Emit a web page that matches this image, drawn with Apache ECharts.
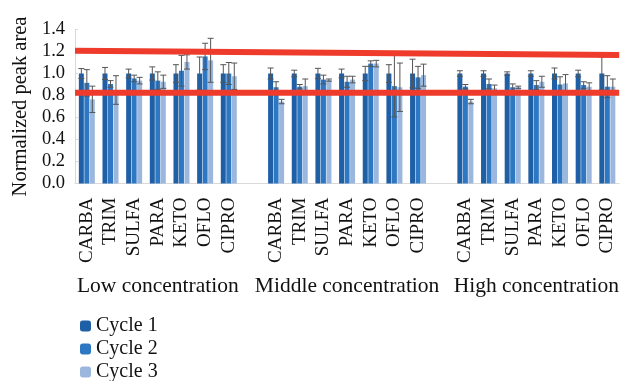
<!DOCTYPE html>
<html>
<head>
<meta charset="utf-8">
<script src="https://cdn.jsdelivr.net/npm/echarts@6/dist/echarts.min.js"></script>
<style>
  html, body { margin: 0; padding: 0; background: #fff; }
  #chart { width: 622px; height: 381px; }
</style>
</head>
<body>
<div id="chart"></div>
<script>
// data
const drugs = ['CARBA', 'TRIM', 'SULFA', 'PARA', 'KETO', 'OFLO', 'CIPRO'];
const groupNames = ['Low concentration', 'Middle concentration', 'High concentration'];
const seriesNames = ['Cycle 1', 'Cycle 2', 'Cycle 3'];

// low (7) / middle (7) / high (7)
const cycle1 = [1.00, 1.00, 1.00, 1.00, 1.00, 1.00, 1.00,
                1.00, 1.00, 1.00, 1.00, 1.00, 1.00, 1.00,
                1.00, 1.00, 1.00, 1.00, 1.00, 1.00, 1.00];
const cycle2 = [0.915, 0.905, 0.955, 0.935, 1.025, 1.155, 1.00,
                0.875, 0.88, 0.945, 0.925, 1.09, 0.885, 0.965,
                0.88, 0.905, 0.875, 0.895, 0.90, 0.895, 0.88];
const cycle3 = [0.765, 0.85, 0.935, 0.925, 1.105, 1.12, 0.975,
                0.745, 0.885, 0.94, 0.945, 1.09, 0.875, 0.985,
                0.745, 0.865, 0.875, 0.925, 0.91, 0.88, 0.88];
const err1 = [0.045, 0.055, 0.04, 0.06, 0.08, 0.15, 0.08,
              0.05, 0.03, 0.047, 0.04, 0.065, 0.08, 0.13,
              0.025, 0.025, 0.015, 0.025, 0.05, 0.03, 0.15];
const err2 = [0.12, 0.03, 0.03, 0.08, 0.14, 0.12, 0.10,
              0.05, 0.02, 0.04, 0.05, 0.025, 0.28, 0.10,
              0.02, 0.045, 0.03, 0.04, 0.07, 0.03, 0.10];
const err3 = [0.12, 0.13, 0.03, 0.06, 0.065, 0.20, 0.12,
              0.02, 0.065, 0.01, 0.03, 0.03, 0.22, 0.10,
              0.02, 0.03, 0.01, 0.05, 0.08, 0.035, 0.07];

// red reference lines (left end, right end)
const refUpper = [1.207, 1.168];
const refLower = [0.825, 0.825];

const colors = ['#1f5fa6', '#2e77c3', '#9bb7dd'];
const serif = 'Liberation Serif';

// 8 slots per group, last slot empty (the last group is cut off by the picture)
const withGaps = (arr, gap) => {
  let out = [];
  for (let g = 0; g < 3; g++) {
    out = out.concat(arr.slice(g * 7, g * 7 + 7));
    if (g < 2) out.push(gap);
  }
  return out;
};
const categories = withGaps([...drugs, ...drugs, ...drugs], '');
const groupAxis = categories.map((c, i) => (i % 8 === 3 ? groupNames[Math.floor(i / 8)] : ''));

const values = [cycle1, cycle2, cycle3].map(v => withGaps(v, null));
const errors = [err1, err2, err3].map(e => withGaps(e, null));

let myChart = echarts.init(document.getElementById('chart'));

const barSeries = values.map((v, s) => ({
  name: seriesNames[s],
  type: 'bar',
  data: v,
  barWidth: 5,
  barGap: '10%',
  itemStyle: { color: colors[s] },
  z: 2
}));

const errSeries = values.map((v, s) => ({
  type: 'custom',
  name: 'err' + s,
  data: v.map((y, i) => (y == null ? null : [i, y - errors[s][i], y + errors[s][i]])).filter(d => d),
  encode: { x: 0, y: [1, 2] },
  renderItem: (params, api) => {
    const hi = api.coord([api.value(0), api.value(2)]);
    const lo = api.coord([api.value(0), api.value(1)]);
    const x = hi[0] + (s - 1) * 5.5;
    const style = { stroke: '#555', lineWidth: 1 };
    return {
      type: 'group',
      children: [
        { type: 'line', shape: { x1: x, y1: hi[1], x2: x, y2: lo[1] }, style },
        { type: 'line', shape: { x1: x - 3, y1: hi[1], x2: x + 3, y2: hi[1] }, style },
        { type: 'line', shape: { x1: x - 3, y1: lo[1], x2: x + 3, y2: lo[1] }, style }
      ]
    };
  },
  z: 3
}));

const refSeries = [refUpper, refLower].map(r => ({
  type: 'line',
  xAxisIndex: 2,
  data: [[0, r[0]], [1, r[1]]],
  symbol: 'none',
  lineStyle: { color: '#ee3b2b', width: 6 },
  silent: true,
  z: 5
}));

let option = {
  animation: false,
  grid: { left: 75, top: 29.5, width: 547, height: 154 },
  legend: {
    data: seriesNames,
    orient: 'vertical',
    left: 80,
    top: 316,
    height: 120,
    padding: 0,
    itemWidth: 11,
    itemHeight: 11,
    itemGap: 3,
    textStyle: { fontFamily: serif, fontSize: 20, color: '#111' }
  },
  xAxis: [
    {
      type: 'category',
      data: categories,
      axisLine: { lineStyle: { color: '#d9d9d9' } },
      axisTick: { interval: (i) => i % 8 === 0, length: 64, lineStyle: { color: '#d9d9d9' } },
      axisLabel: {
        interval: 0, rotate: 90, margin: 14,
        fontFamily: serif, fontSize: 19, color: '#111'
      }
    },
    {
      type: 'category',
      data: groupAxis,
      position: 'bottom',
      offset: 84,
      axisLine: { show: false },
      axisTick: { show: false },
      axisLabel: { interval: 0, margin: 8, fontFamily: serif, fontSize: 21.5, color: '#111' }
    },
    { type: 'value', min: 0, max: 1, show: false }
  ],
  yAxis: {
    type: 'value',
    min: 0,
    max: 1.4,
    interval: 0.2,
    name: 'Normalized peak area',
    nameLocation: 'middle',
    nameGap: 43,
    nameTextStyle: { fontFamily: serif, fontSize: 20.5, color: '#111' },
    axisLine: { show: true, lineStyle: { color: '#d9d9d9' } },
    axisTick: { show: true, inside: true, length: 3, lineStyle: { color: '#d9d9d9' } },
    splitLine: { show: false },
    axisLabel: {
      formatter: v => v.toFixed(1),
      margin: 10,
      fontFamily: serif, fontSize: 18.5, color: '#111'
    }
  },
  series: [...barSeries, ...errSeries, ...refSeries]
};

myChart.setOption(option);
</script>
</body>
</html>
